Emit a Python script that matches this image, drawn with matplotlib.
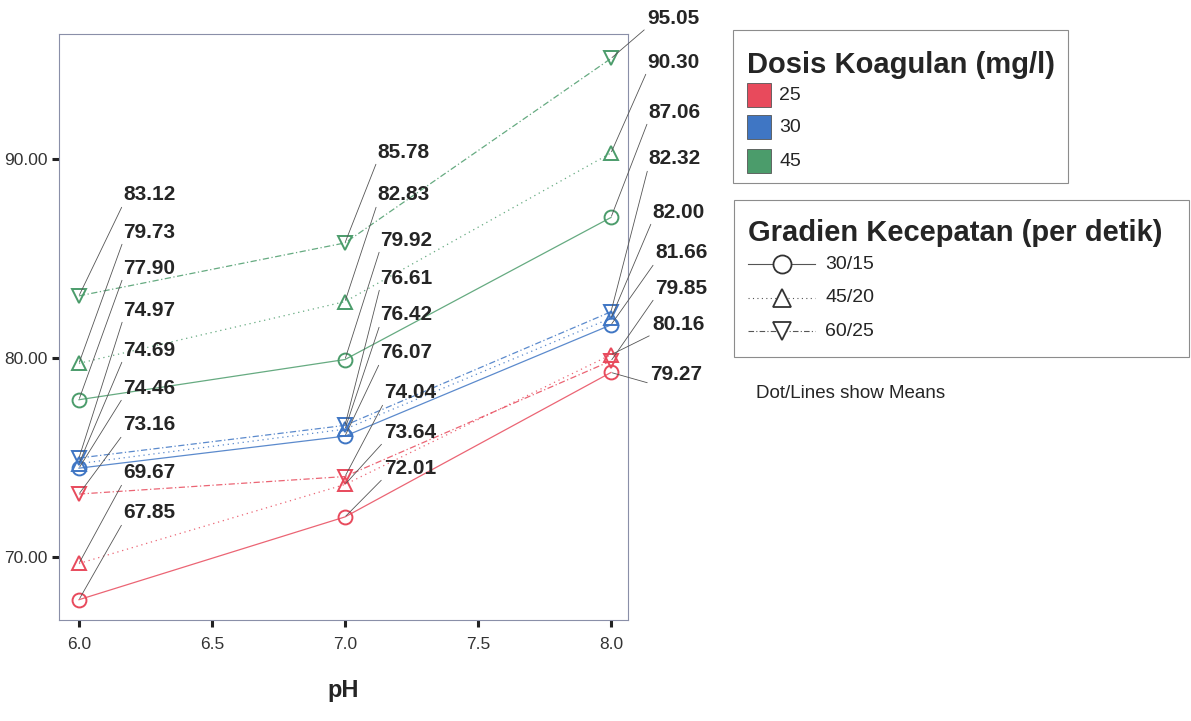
import numpy as np
import matplotlib
matplotlib.use("Agg")
import matplotlib.pyplot as plt
from matplotlib.lines import Line2D
from matplotlib.patches import Rectangle

# data
ph = [6.0, 7.0, 8.0]
doses = ["25", "30", "45"]
gradients = ["30/15", "45/20", "60/25"]

red_30_15 = [67.85, 72.01, 79.27]
red_45_20 = [69.67, 73.64, 80.16]
red_60_25 = [73.16, 74.04, 79.85]
blue_30_15 = [74.46, 76.07, 81.66]
blue_45_20 = [74.69, 76.42, 82.00]
blue_60_25 = [74.97, 76.61, 82.32]
green_30_15 = [77.90, 79.92, 87.06]
green_45_20 = [79.73, 82.83, 90.30]
green_60_25 = [83.12, 85.78, 95.05]

x_ticks = [6.0, 6.5, 7.0, 7.5, 8.0]
y_ticks = [70, 80, 90]

W, H = 1191, 721
dose_colors = {"25": "#e84a5c", "30": "#3f76c4", "45": "#4b9c6b"}
grad_style = {
    "30/15": ("-", "o"),
    "45/20": ((0, (1, 3)), "^"),
    "60/25": ((0, (5, 2, 1, 2)), "v"),
}

series = [
    ("45", "60/25", green_60_25), ("45", "45/20", green_45_20), ("45", "30/15", green_30_15),
    ("30", "60/25", blue_60_25), ("30", "45/20", blue_45_20), ("30", "30/15", blue_30_15),
    ("25", "60/25", red_60_25), ("25", "45/20", red_45_20), ("25", "30/15", red_30_15),
]

# label placement (figure pixels from top-left), same order as `series`
lab_x = [
    [123] * 9,
    [377, 377, 380, 380, 380, 380, 384, 384, 384],
    [647, 647, 648, 648, 652, 655, 655, 652, 650],
]
lab_y = [
    [195, 232, 268, 310, 350, 388, 425, 473, 513],
    [152, 195, 240, 278, 315, 353, 393, 432, 468],
    [18, 62, 112, 159, 212, 253, 288, 325, 374],
]

plt.rcParams["font.family"] = ["Liberation Sans", "DejaVu Sans"]

fig = plt.figure(figsize=(W / 100, H / 100), dpi=100)
ax = fig.add_axes([59 / W, 1 - 620 / H, (628 - 59) / W, (620 - 34) / H])

for dose, grad, vals in series:
    ls, mk = grad_style[grad]
    c = dose_colors[dose]
    ax.plot(ph, vals, color=c, linestyle=ls, linewidth=0.9, alpha=0.85)
    ax.plot(ph, vals, linestyle="none", marker=mk, markersize=10,
            markerfacecolor="none", markeredgecolor=c, markeredgewidth=1.4)

for j, x in enumerate(ph):
    for i, (dose, grad, vals) in enumerate(series):
        ax.annotate(f"{vals[j]:.2f}", xy=(x, vals[j]), xycoords="data",
                    xytext=(lab_x[j][i], H - lab_y[j][i]), textcoords="figure pixels",
                    ha="left", va="center", fontsize=15, fontweight="bold", color="#252525",
                    annotation_clip=False,
                    arrowprops=dict(arrowstyle="-", color="#555555", lw=0.6,
                                    relpos=(0, 0), shrinkA=0, shrinkB=1))

ax.set_xlim(5.925, 8.064)
ax.set_ylim(66.83, 96.28)
ax.set_xticks(x_ticks)
ax.set_xticklabels([f"{t:.1f}" for t in x_ticks])
ax.set_yticks(y_ticks)
ax.set_yticklabels([f"{t:.2f}" for t in y_ticks])
ax.tick_params(direction="out", length=5, width=2.2, color="#222222",
               labelsize=12.5, labelcolor="#333333")
ax.tick_params(axis="x", pad=7)
ax.tick_params(axis="y", pad=3)
for sp in ax.spines.values():
    sp.set_color("#8a8fa8")
    sp.set_linewidth(0.8)
ax.set_xlabel("pH", fontsize=17, fontweight="bold", color="#252525", labelpad=20)


def fx(x):
    return x / W


def fy(y):
    return 1 - y / H


# legend 1: dose colours
fig.add_artist(Rectangle((fx(733), fy(183)), fx(1068) - fx(733), fy(30) - fy(183),
                         transform=fig.transFigure, fill=False, ec="#8c8c8c", lw=0.8))
fig.text(fx(747), fy(65), "Dosis Koagulan (mg/l)", fontsize=21, fontweight="bold",
         color="#252525", va="center", ha="left")
for d, yy in zip(doses, [95, 127, 161]):
    fig.add_artist(Rectangle((fx(747), fy(yy + 12)), 24 / W, 24 / H, transform=fig.transFigure,
                             fc=dose_colors[d], ec="#555555", lw=0.6))
    fig.text(fx(779), fy(yy), d, fontsize=14, color="#252525", va="center", ha="left")

# legend 2: gradient line styles
fig.add_artist(Rectangle((fx(734), fy(357)), fx(1189) - fx(734), fy(200) - fy(357),
                         transform=fig.transFigure, fill=False, ec="#8c8c8c", lw=0.8))
fig.text(fx(748), fy(233), "Gradien Kecepatan (per detik)", fontsize=21, fontweight="bold",
         color="#252525", va="center", ha="left")
for g, yy in zip(gradients, [264, 298, 331]):
    ls, mk = grad_style[g]
    fig.add_artist(Line2D([fx(748), fx(815)], [fy(yy), fy(yy)], transform=fig.transFigure,
                          color="#555555", linestyle=ls, lw=0.8))
    fig.add_artist(Line2D([fx(782)], [fy(yy)], transform=fig.transFigure, marker=mk,
                          markersize=13, markerfacecolor="white", markeredgecolor="#333333",
                          markeredgewidth=1.3, linestyle="none"))
    fig.text(fx(825), fy(yy), g, fontsize=14, color="#252525", va="center", ha="left")

fig.text(fx(756), fy(393), "Dot/Lines show Means", fontsize=13.5, color="#252525",
         va="center", ha="left")

fig.savefig("out.png", dpi=100)
